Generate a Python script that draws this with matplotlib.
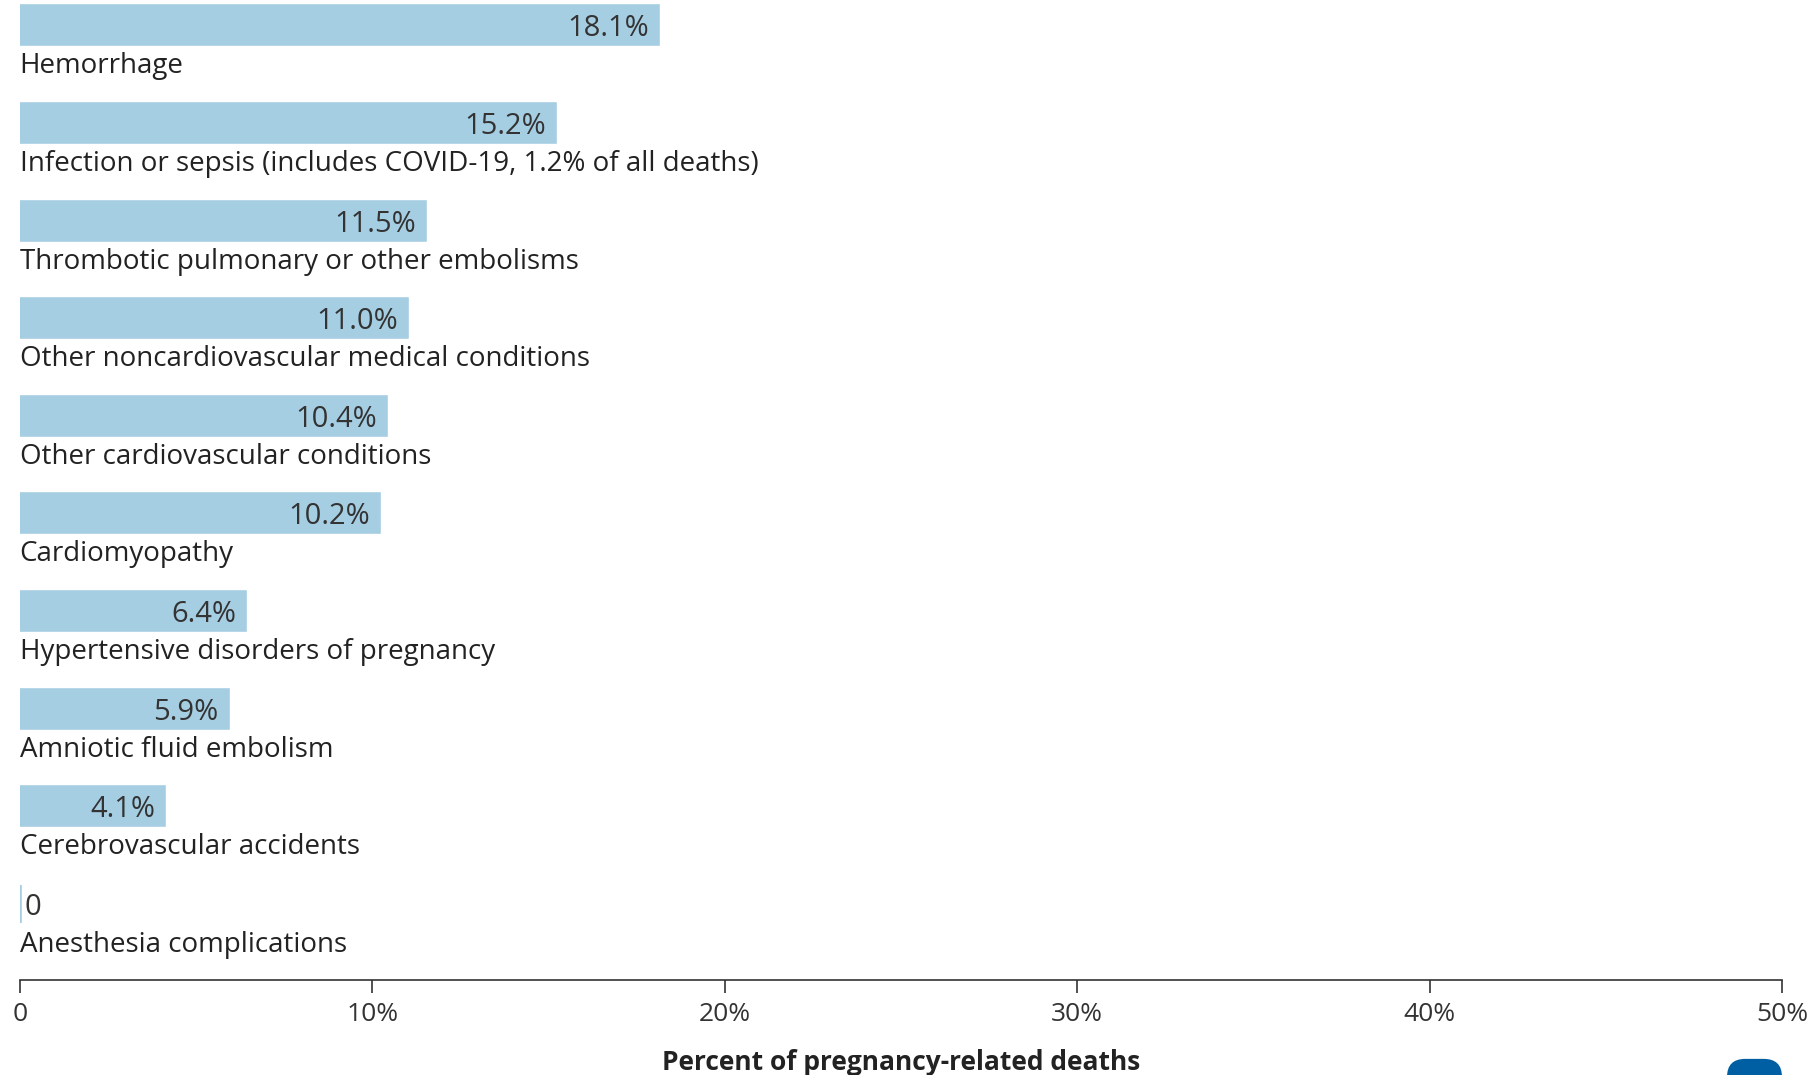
import matplotlib
matplotlib.use("Agg")
import matplotlib.pyplot as plt
from matplotlib.patches import FancyBboxPatch

categories = [
    "Hemorrhage",
    "Infection or sepsis (includes COVID-19, 1.2% of all deaths)",
    "Thrombotic pulmonary or other embolisms",
    "Other noncardiovascular medical conditions",
    "Other cardiovascular conditions",
    "Cardiomyopathy",
    "Hypertensive disorders of pregnancy",
    "Amniotic fluid embolism",
    "Cerebrovascular accidents",
    "Anesthesia complications",
]
values = [18.1, 15.2, 11.5, 11.0, 10.4, 10.2, 6.4, 5.9, 4.1, 0]
xticks = [0, 10, 20, 30, 40, 50]
xtick_labels = ["0", "10%", "20%", "30%", "40%", "50%"]
xlabel = "Percent of pregnancy-related deaths"

plt.rcParams['font.family'] = ['Open Sans', 'DejaVu Sans']
W, H = 1819, 1075
fig = plt.figure(figsize=(W / 100, H / 100), dpi=100)
left = 19.7 / W
right = 1782 / W
bottom = (H - 980) / H
ax = fig.add_axes([left, bottom, right - left, 1 - bottom])

bar_color = "#a6cee3"
text_color = "#333333"
ypos = list(range(len(categories)))
ax.barh(ypos, values, height=0.39, color=bar_color, edgecolor=bar_color, linewidth=2.6)

for y, v, c in zip(ypos, values, categories):
    if v > 0:
        ax.annotate(f"{v:.1f}%", (v, y), xytext=(-6.5, -2.5), textcoords="offset points",
                    ha="right", va="center", fontsize=21, color=text_color)
    else:
        ax.annotate("0", (v, y), xytext=(3.5, -2.5), textcoords="offset points",
                    ha="left", va="center", fontsize=21, color=text_color)
    ax.text(0, y + 0.42, c, ha="left", va="center", fontsize=20, color="#222222")

ax.set_xlim(0, 50)
ax.set_ylim(9.78, -0.26)
ax.set_xticks(xticks)
ax.set_xticklabels(xtick_labels, fontsize=19, color=text_color)
ax.set_yticks([])
for s in ["top", "right", "left"]:
    ax.spines[s].set_visible(False)
ax.spines["bottom"].set_color("#333333")
ax.spines["bottom"].set_linewidth(1.2)
ax.tick_params(axis="x", length=9, width=1.2, color="#333333", pad=6.5)
ax.set_xlabel(xlabel, fontsize=19, fontweight="bold", color="#222222", labelpad=16)

btn = FancyBboxPatch((1727 / W, -0.02), 55 / W, 0.035, boxstyle="round,pad=0,rounding_size=0.01",
                     transform=fig.transFigure, facecolor="#005ea2", edgecolor="none",
                     mutation_aspect=W / H)
fig.patches.append(btn)

fig.savefig("out.png", dpi=100)
